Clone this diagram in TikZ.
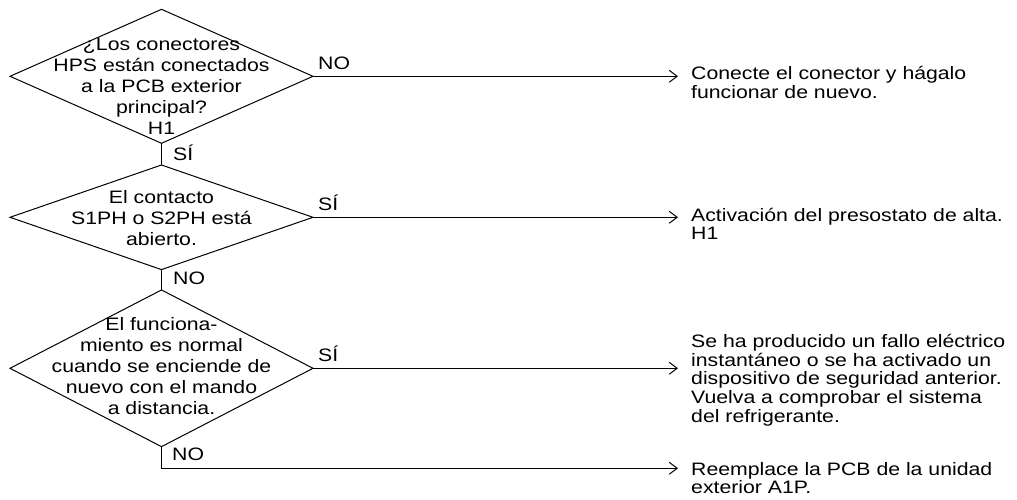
\documentclass[tikz,border=0pt]{standalone}
\usepackage{fontspec}
\setmainfont{Liberation Sans}[FakeStretch=1.18]
\usetikzlibrary{arrows.meta,shapes.geometric,calc}
% stacked lines whose baseline is the baseline of the first line
\newcommand{\stack}[2]{\begin{tabular}[t]{@{}#1@{}}#2\end{tabular}}
\begin{document}
\begin{tikzpicture}[x=1pt,y=-1pt,
  decision/.style={diamond, draw, line width=1pt, inner sep=0pt, outer sep=0pt,
    minimum width=303pt},
  qtext/.style={anchor=base, inner sep=0pt, font=\fontsize{18}{21}\selectfont},
  result/.style={anchor=base west, inner sep=0pt, font=\fontsize{18}{18.6}\selectfont},
  lbl/.style={anchor=base west, inner sep=0pt, font=\fontsize{18}{20}\selectfont},
  link/.style={line width=1pt},
  arrow/.style={line width=1pt, -{Straight Barb[length=8pt,width=12pt,line width=1pt]},
    shorten >=13pt}
]
\useasboundingbox (0,0) rectangle (1017,500);

% decisions
\node[decision, minimum height=134pt] (d1) at (161.5,76.3) {};
\node[decision, minimum height=104.6pt] (d2) at (161.5,217.3) {};
\node[decision, minimum height=156.7pt] (d3) at (161.5,368.3) {};

\node[qtext] (q1) at (161.5,51) {\stack{c}{¿Los conectores\\HPS están conectados\\a la PCB exterior\\principal?\\H1}};
\node[qtext] (q2) at (161.5,203) {\stack{c}{El contacto\\S1PH o S2PH está\\abierto.}};
\node[qtext] (q3) at (161.5,330) {\stack{c}{El funciona-\\miento es normal\\cuando se enciende de\\nuevo con el mando\\a distancia.}};

% outcomes
\node[result] (r1) at (691,80) {\stack{l}{Conecte el conector y hágalo\\funcionar de nuevo.}};
\node[result] (r2) at (691,221) {\stack{l}{Activación del presostato de alta.\\H1}};
\node[result] (r3) at (691,347.5) {\stack{l}{Se ha producido un fallo eléctrico\\instantáneo o se ha activado un\\dispositivo de seguridad anterior.\\Vuelva a comprobar el sistema\\del refrigerante.}};
\node[result] (r4) at (691,475) {\stack{l}{Reemplace la PCB de la unidad\\exterior A1P.}};

% connectors
\draw[link] (d1.south) -- (d2.north);
\draw[link] (d2.south) -- (d3.north);
\draw[arrow] (d1.east) -- (d1.east -| r1.west);
\draw[arrow] (d2.east) -- (d2.east -| r2.west);
\draw[arrow] (d3.east) -- (d3.east -| r3.west);
\coordinate (c4) at ($(d3.south)+(0,21.6)$);
\draw[arrow] (d3.south) -- (c4) -- (c4 -| r4.west);

% branch labels
\node[lbl] (l1) at ($(d1.east)+(5,-7)$) {NO};
\node[lbl] (l2) at ($(d1.south)+(11.5,17)$) {SÍ};
\node[lbl] (l3) at ($(d2.east)+(5,-7)$) {SÍ};
\node[lbl] (l4) at ($(d2.south)+(11.5,15)$) {NO};
\node[lbl] (l5) at ($(d3.east)+(5,-7)$) {SÍ};
\node[lbl] (l6) at ($(d3.south)+(10.5,13.5)$) {NO};
\end{tikzpicture}
\end{document}
